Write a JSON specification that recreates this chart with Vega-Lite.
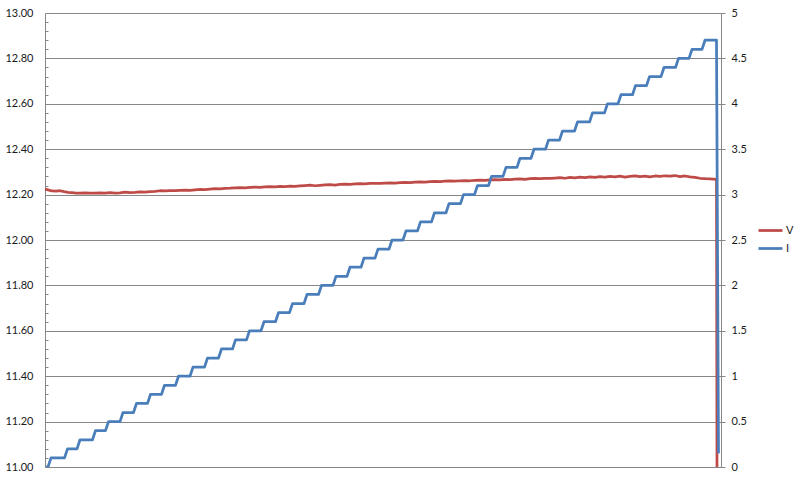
{
 "$schema": "https://vega.github.io/schema/vega-lite/v6.json",
 "width": 676,
 "height": 454,
 "autosize": {"type": "none"},
 "padding": {"left": 45, "top": 13, "right": 79, "bottom": 13},
 "background": "white",
 "config": {"view": {"stroke": null}, "font": "Lato"},
 "datasets": {
  "voltage": [
   {"t":0,"V":12.224},{"t":3,"V":12.221},{"t":7,"V":12.216},{"t":11,"V":12.215},{"t":15,"V":12.217},{"t":19,"V":12.213},{"t":23,"V":12.21},{"t":27,"V":12.209},{"t":31,"V":12.207},{"t":35,"V":12.206},
   {"t":40,"V":12.208},{"t":45,"V":12.207},{"t":50,"V":12.206},{"t":55,"V":12.208},{"t":60,"V":12.207},{"t":65,"V":12.209},{"t":70,"V":12.207},{"t":75,"V":12.208},{"t":80,"V":12.211},{"t":85,"V":12.209},
   {"t":90,"V":12.21},{"t":95,"V":12.212},{"t":100,"V":12.211},{"t":105,"V":12.213},{"t":110,"V":12.214},{"t":115,"V":12.217},{"t":120,"V":12.216},{"t":125,"V":12.218},{"t":130,"V":12.217},{"t":135,"V":12.219},
   {"t":140,"V":12.22},{"t":145,"V":12.219},{"t":150,"V":12.221},{"t":155,"V":12.223},{"t":160,"V":12.222},{"t":165,"V":12.224},{"t":170,"V":12.226},{"t":175,"V":12.225},{"t":180,"V":12.227},{"t":185,"V":12.228},
   {"t":190,"V":12.23},{"t":195,"V":12.231},{"t":200,"V":12.23},{"t":205,"V":12.232},{"t":210,"V":12.233},{"t":215,"V":12.232},{"t":220,"V":12.234},{"t":225,"V":12.235},{"t":230,"V":12.234},{"t":235,"V":12.236},
   {"t":240,"V":12.235},{"t":245,"V":12.237},{"t":250,"V":12.236},{"t":255,"V":12.238},{"t":260,"V":12.24},{"t":265,"V":12.242},{"t":270,"V":12.239},{"t":275,"V":12.241},{"t":280,"V":12.243},{"t":285,"V":12.244},
   {"t":290,"V":12.242},{"t":295,"V":12.245},{"t":300,"V":12.246},{"t":305,"V":12.245},{"t":310,"V":12.247},{"t":315,"V":12.248},{"t":320,"V":12.247},{"t":325,"V":12.249},{"t":330,"V":12.25},{"t":335,"V":12.249},
   {"t":340,"V":12.251},{"t":345,"V":12.252},{"t":350,"V":12.251},{"t":355,"V":12.253},{"t":360,"V":12.254},{"t":365,"V":12.253},{"t":370,"V":12.255},{"t":375,"V":12.256},{"t":380,"V":12.255},{"t":385,"V":12.257},
   {"t":390,"V":12.258},{"t":395,"V":12.257},{"t":400,"V":12.259},{"t":405,"V":12.26},{"t":410,"V":12.259},{"t":415,"V":12.261},{"t":420,"V":12.262},{"t":425,"V":12.261},{"t":430,"V":12.263},{"t":435,"V":12.264},
   {"t":440,"V":12.263},{"t":445,"V":12.265},{"t":450,"V":12.266},{"t":455,"V":12.265},{"t":460,"V":12.267},{"t":465,"V":12.266},{"t":470,"V":12.268},{"t":475,"V":12.269},{"t":480,"V":12.267},{"t":485,"V":12.27},
   {"t":490,"V":12.271},{"t":495,"V":12.27},{"t":500,"V":12.272},{"t":505,"V":12.271},{"t":510,"V":12.273},{"t":515,"V":12.275},{"t":520,"V":12.272},{"t":525,"V":12.276},{"t":530,"V":12.274},{"t":535,"V":12.277},
   {"t":540,"V":12.275},{"t":545,"V":12.278},{"t":550,"V":12.276},{"t":555,"V":12.279},{"t":560,"V":12.277},{"t":565,"V":12.28},{"t":570,"V":12.278},{"t":575,"V":12.281},{"t":580,"V":12.277},{"t":585,"V":12.28},
   {"t":590,"V":12.282},{"t":595,"V":12.279},{"t":600,"V":12.281},{"t":605,"V":12.278},{"t":610,"V":12.282},{"t":615,"V":12.28},{"t":620,"V":12.283},{"t":625,"V":12.281},{"t":630,"V":12.284},{"t":635,"V":12.279},
   {"t":640,"V":12.282},{"t":645,"V":12.278},{"t":650,"V":12.276},{"t":655,"V":12.272},{"t":660,"V":12.27},{"t":665,"V":12.269},{"t":671.5,"V":12.267},{"t":672,"V":11.0}
  ],
  "current": [
   {"t":0.5,"I":0},{"t":3,"I":0},{"t":6,"I":0.1},{"t":19.5,"I":0.1},{"t":22.5,"I":0.2},{"t":32,"I":0.2},{"t":35,"I":0.3},{"t":47.5,"I":0.3},{"t":50.5,"I":0.4},
   {"t":60.5,"I":0.4},{"t":63.5,"I":0.5},{"t":75,"I":0.5},{"t":78,"I":0.6},{"t":88.5,"I":0.6},{"t":91.5,"I":0.7},{"t":102.5,"I":0.7},{"t":105.5,"I":0.8},
   {"t":116.5,"I":0.8},{"t":119.5,"I":0.9},{"t":130.5,"I":0.9},{"t":133.5,"I":1.0},{"t":145,"I":1.0},{"t":148,"I":1.1},{"t":159.5,"I":1.1},{"t":162.5,"I":1.2},
   {"t":173.5,"I":1.2},{"t":176.5,"I":1.3},{"t":187.5,"I":1.3},{"t":190.5,"I":1.4},{"t":201.5,"I":1.4},{"t":204.5,"I":1.5},{"t":216,"I":1.5},{"t":219,"I":1.6},
   {"t":230.5,"I":1.6},{"t":233.5,"I":1.7},{"t":244.5,"I":1.7},{"t":247.5,"I":1.8},{"t":259,"I":1.8},{"t":262,"I":1.9},{"t":273.5,"I":1.9},{"t":276.5,"I":2.0},
   {"t":288,"I":2.0},{"t":291,"I":2.1},{"t":302,"I":2.1},{"t":305,"I":2.2},{"t":316,"I":2.2},{"t":319,"I":2.3},{"t":330,"I":2.3},{"t":333,"I":2.4},
   {"t":344,"I":2.4},{"t":347,"I":2.5},{"t":358,"I":2.5},{"t":361,"I":2.6},{"t":372.5,"I":2.6},{"t":375.5,"I":2.7},{"t":386.5,"I":2.7},{"t":389.5,"I":2.8},
   {"t":401,"I":2.8},{"t":404,"I":2.9},{"t":415.5,"I":2.9},{"t":418.5,"I":3.0},{"t":429.5,"I":3.0},{"t":432.5,"I":3.1},{"t":443.5,"I":3.1},{"t":446.5,"I":3.2},
   {"t":458,"I":3.2},{"t":461,"I":3.3},{"t":472,"I":3.3},{"t":475,"I":3.4},{"t":486,"I":3.4},{"t":489,"I":3.5},{"t":500.5,"I":3.5},{"t":503.5,"I":3.6},
   {"t":514.5,"I":3.6},{"t":517.5,"I":3.7},{"t":529.5,"I":3.7},{"t":532.5,"I":3.8},{"t":544.5,"I":3.8},{"t":547.5,"I":3.9},{"t":559.5,"I":3.9},{"t":562.5,"I":4.0},
   {"t":573,"I":4.0},{"t":576,"I":4.1},{"t":587.5,"I":4.1},{"t":590.5,"I":4.2},{"t":601.5,"I":4.2},{"t":604.5,"I":4.3},{"t":616,"I":4.3},{"t":619,"I":4.4},
   {"t":630.5,"I":4.4},{"t":633.5,"I":4.5},{"t":644,"I":4.5},{"t":647,"I":4.6},{"t":657,"I":4.6},{"t":660,"I":4.7},{"t":671.5,"I":4.7},{"t":673.5,"I":0.15}
  ]
 },
 "layer": [
  {
   "data": {"name": "voltage"},
   "mark": {"type": "line", "strokeWidth": 2.75, "clip": true, "strokeJoin": "round"},
   "encoding": {
    "x": {"field": "t", "type": "quantitative", "scale": {"domain": [0, 676], "nice": false, "zero": false},
          "axis": {"title": null, "labels": false, "ticks": false, "grid": false, "domain": true, "domainColor": "#868686"}},
    "y": {"field": "V", "type": "quantitative", "scale": {"domain": [11, 13], "nice": false, "zero": false},
          "axis": {"orient": "left", "title": null, "format": ".2f",
                   "values": [11,11.04,11.08,11.12,11.16,11.2,11.24,11.28,11.32,11.36,11.4,11.44,11.48,11.52,11.56,11.6,11.64,11.68,11.72,11.76,11.8,11.84,11.88,11.92,11.96,12,12.04,12.08,12.12,12.16,12.2,12.24,12.28,12.32,12.36,12.4,12.44,12.48,12.52,12.56,12.6,12.64,12.68,12.72,12.76,12.8,12.84,12.88,12.92,12.96,13],
                   "labelExpr": "abs(datum.value*5-round(datum.value*5))<0.001 ? datum.label : ''",
                   "grid": true, "gridColor": "#868686", "gridWidth": 1,
                   "gridOpacity": {"condition": {"test": "abs(datum.value*5-round(datum.value*5))<0.001", "value": 1}, "value": 0},
                   "ticks": true, "tickSize": -3, "tickColor": "#868686",
                   "tickOpacity": {"condition": {"test": "abs(datum.value*5-round(datum.value*5))<0.001", "value": 0}, "value": 1},
                   "domain": true, "domainColor": "#868686",
                   "labelPadding": 15, "labelFont": "Lato", "labelFontSize": 11, "labelColor": "#1a1a1a"}},
    "color": {"datum": "V", "type": "nominal",
              "scale": {"domain": ["V", "I"], "range": ["#BE4B48", "#4A7EBB"]},
              "legend": {"orient": "none", "legendX": 714, "legendY": 206, "title": null, "padding": 0,
                         "symbolType": "M-1.2,0H1.2", "symbolSize": 400, "symbolStrokeWidth": 2.75,
                         "rowPadding": 1, "labelOffset": 4, "labelFont": "Lato", "labelFontSize": 11, "labelColor": "#1a1a1a"}}
   }
  },
  {
   "data": {"name": "current"},
   "mark": {"type": "line", "strokeWidth": 2.75, "clip": true, "strokeJoin": "round"},
   "encoding": {
    "x": {"field": "t", "type": "quantitative", "scale": {"domain": [0, 676], "nice": false, "zero": false}},
    "y": {"field": "I", "type": "quantitative", "scale": {"domain": [0, 5], "nice": false, "zero": false},
          "axis": {"orient": "right", "title": null, "values": [0,0.5,1,1.5,2,2.5,3,3.5,4,4.5,5], "format": "~g",
                   "grid": false, "ticks": true, "tickSize": 4, "tickColor": "#868686",
                   "domain": true, "domainColor": "#868686",
                   "labelPadding": 6, "labelFont": "Lato", "labelFontSize": 11, "labelColor": "#1a1a1a"}},
    "color": {"datum": "I", "type": "nominal"}
   }
  }
 ],
 "resolve": {"scale": {"y": "independent"}}
}
